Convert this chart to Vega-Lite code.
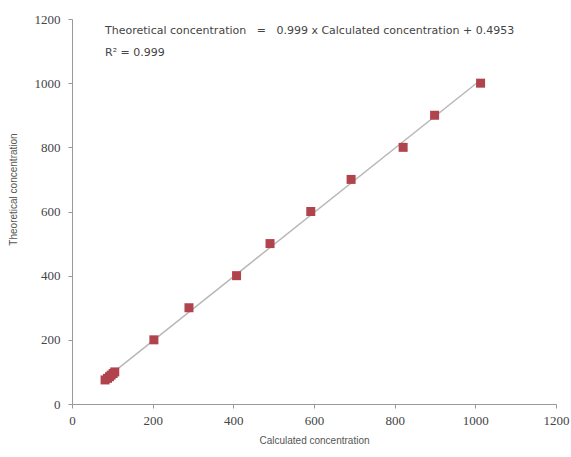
{
  "$schema": "https://vega.github.io/schema/vega-lite/v6.json",
  "width": 484,
  "height": 385,
  "autosize": "none",
  "padding": {"left": 72, "top": 19, "right": 15, "bottom": 53},
  "background": "white",
  "config": {"view": {"stroke": null}},
  "datasets": {
    "pts": [
      {"calc": 82, "theo": 75},
      {"calc": 88, "theo": 80},
      {"calc": 93, "theo": 85},
      {"calc": 97, "theo": 90},
      {"calc": 102, "theo": 95},
      {"calc": 106, "theo": 100},
      {"calc": 203, "theo": 200},
      {"calc": 290, "theo": 300},
      {"calc": 408, "theo": 400},
      {"calc": 491, "theo": 500},
      {"calc": 592, "theo": 600},
      {"calc": 692, "theo": 700},
      {"calc": 821, "theo": 800},
      {"calc": 899, "theo": 900},
      {"calc": 1013, "theo": 1000}
    ],
    "notes": [
      {"x": 82, "y": 1162, "label": "Theoretical concentration \u00a0\u00a0=\u00a0\u00a0 0.999 x Calculated concentration + 0.4953"},
      {"x": 82, "y": 1094, "label": "R² = 0.999"}
    ]
  },
  "layer": [
    {
      "data": {"name": "pts"},
      "transform": [{"regression": "theo", "on": "calc"}],
      "mark": {"type": "line", "color": "#b8b8b8", "strokeWidth": 1.5},
      "encoding": {
        "x": {"field": "calc", "type": "quantitative"},
        "y": {"field": "theo", "type": "quantitative"}
      }
    },
    {
      "data": {"name": "pts"},
      "mark": {"type": "square", "color": "#b0434c", "opacity": 1, "size": 81},
      "encoding": {
        "x": {
          "field": "calc", "type": "quantitative",
          "scale": {"domain": [0, 1200], "nice": false},
          "axis": {
            "title": "Calculated concentration",
            "values": [0, 200, 400, 600, 800, 1000, 1200],
            "format": "d",
            "grid": false,
            "domainColor": "#999999",
            "tickColor": "#999999",
            "tickSize": 4,
            "labelFont": "Liberation Serif",
            "labelFontSize": 13,
            "labelColor": "#444444",
            "labelPadding": 6,
            "labelFlush": false,
            "titleFont": "Liberation Sans",
            "titleFontSize": 10,
            "titleFontWeight": "normal",
            "titleColor": "#555555",
            "titlePadding": 8
          }
        },
        "y": {
          "field": "theo", "type": "quantitative",
          "scale": {"domain": [0, 1200], "nice": false},
          "axis": {
            "title": "Theoretical concentration",
            "values": [0, 200, 400, 600, 800, 1000, 1200],
            "format": "d",
            "grid": false,
            "domainColor": "#999999",
            "tickColor": "#999999",
            "tickSize": 4,
            "labelFont": "Liberation Serif",
            "labelFontSize": 13,
            "labelColor": "#444444",
            "labelPadding": 8,
            "labelFlush": false,
            "titleFont": "Liberation Sans",
            "titleFontSize": 10,
            "titleFontWeight": "normal",
            "titleColor": "#555555",
            "titleX": -54,
            "titleY": 170
          }
        }
      }
    },
    {
      "data": {"name": "notes"},
      "mark": {"type": "text", "align": "left", "baseline": "middle", "font": "DejaVu Sans", "fontSize": 11, "color": "#444444"},
      "encoding": {
        "x": {"field": "x", "type": "quantitative"},
        "y": {"field": "y", "type": "quantitative"},
        "text": {"field": "label"}
      }
    }
  ]
}
